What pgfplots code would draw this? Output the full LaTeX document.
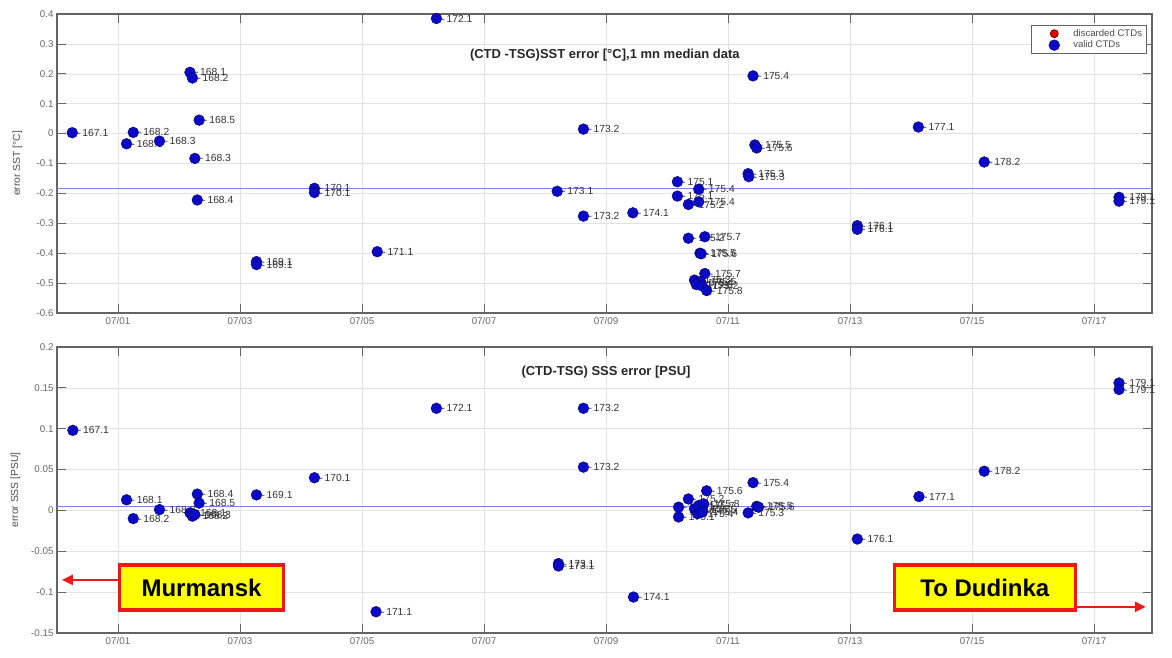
\documentclass[border=0pt]{standalone}
\usepackage{fontspec}
\setmainfont{Liberation Sans}
\usepackage{pgfplots}
\pgfplotsset{compat=1.18}
\usepackage{pgfplotstable}
\usetikzlibrary{arrows.meta}
\definecolor{ptblue}{RGB}{10,10,200}
\definecolor{ptedge}{RGB}{0,0,80}
\definecolor{gridgray}{RGB}{226,226,226}
\definecolor{framegray}{RGB}{100,100,100}
\definecolor{hline}{RGB}{125,125,255}
\definecolor{boxyellow}{RGB}{255,255,0}
\definecolor{boxred}{RGB}{235,25,25}

\pgfplotstableread{
x y lab
0.25 0.003 167.1
1.14 -0.034 168.1
1.25 0.004 168.2
1.68 -0.025 168.3
2.18 0.205 168.1
2.22 0.186 168.2
2.33 0.045 168.5
2.26 -0.083 168.3
2.30 -0.222 168.4
3.27 -0.428 169.1
3.27 -0.438 169.1
4.22 -0.183 170.1
4.22 -0.197 170.1
5.25 -0.395 171.1
6.22 0.385 172.1
8.20 -0.193 173.1
8.63 0.015 173.2
8.63 -0.276 173.2
9.44 -0.265 174.1
10.17 -0.161 175.1
10.17 -0.209 175.1
10.52 -0.186 175.4
10.52 -0.228 175.4
10.35 -0.237 175.2
10.35 -0.350 175.2
10.62 -0.345 175.7
10.54 -0.400 175.5
10.56 -0.402 175.6
10.62 -0.468 175.7
10.45 -0.490 175.3
10.50 -0.500 175.4
10.55 -0.495 175.5
10.48 -0.505 175.6
10.58 -0.510 175.2
10.65 -0.525 175.8
11.33 -0.134 175.3
11.34 -0.144 175.3
11.44 -0.038 175.5
11.47 -0.048 175.6
11.41 0.193 175.4
13.12 -0.308 176.1
13.12 -0.320 176.1
14.12 0.022 177.1
15.20 -0.095 178.2
17.41 -0.213 179.1
17.41 -0.226 179.1
}\sst

\pgfplotstableread{
x y lab
0.26 0.098 167.1
1.14 0.013 168.1
1.25 -0.010 168.2
1.68 0.001 168.3
2.30 0.020 168.4
2.33 0.009 168.5
2.18 -0.003 168.1
2.22 -0.007 168.2
2.26 -0.005 168.3
3.27 0.019 169.1
4.22 0.040 170.1
5.23 -0.124 171.1
6.22 0.125 172.1
8.63 0.125 173.2
8.63 0.053 173.2
8.22 -0.065 173.1
8.22 -0.068 173.1
9.45 -0.106 174.1
10.19 0.004 175.1
10.19 -0.008 175.1
10.35 0.014 175.2
10.65 0.024 175.6
10.45 0.002 175.3
10.50 -0.004 175.4
10.55 0.000 175.5
10.52 0.006 175.7
10.60 0.008 175.8
10.58 -0.002 175.4
11.41 0.034 175.4
11.47 0.005 175.5
11.50 0.004 175.6
11.33 -0.003 175.3
13.12 -0.035 176.1
14.13 0.017 177.1
15.20 0.048 178.2
17.41 0.156 179.1
17.41 0.148 179.1
}\sss

\pgfplotsset{
  ctdaxis/.style={
    scale only axis, width=1095pt,
    xmin=0, xmax=17.95,
    xtick={1,3,5,7,9,11,13,15,17},
    xticklabels={07/01,07/03,07/05,07/07,07/09,07/11,07/13,07/15,07/17},
    grid=major, major grid style={gridgray, line width=0.6pt},
    axis line style={framegray, line width=1.2pt},
    tick style={framegray, line width=0.8pt},
    major tick length=9pt, tick align=inside,
    ticklabel style={font=\fontsize{9.8}{11}\selectfont, text=black!60},
    xticklabel style={yshift=-1pt},
    /pgf/number format/assume math mode=true,
    clip=false,
    ylabel style={font=\fontsize{10.3}{12}\selectfont, text=black!70},
  },
  ctdpts/.style={
    only marks, mark=*, mark size=5.4pt,
    mark options={fill=ptblue, draw=ptedge, line width=0.4pt},
    point meta=explicit symbolic,
    nodes near coords={-\,\pgfplotspointmeta},
    every node near coord/.append style={anchor=west, xshift=4.4pt, inner sep=0.5pt,
      font=\fontsize{10.3}{11}\selectfont, text=black!80},
  }
}

\begin{document}
\begin{tikzpicture}[x=1pt,y=1pt]
\useasboundingbox (0,0) rectangle (1172,657);
% ---------- top: SST ----------
\begin{axis}[ctdaxis, at={(57pt,344pt)}, anchor=south west, height=299pt,
  ymin=-0.6, ymax=0.4,
  ytick={-0.6,-0.5,-0.4,-0.3,-0.2,-0.1,0,0.1,0.2,0.3,0.4},
  yticklabel style={/pgf/number format/.cd, fixed, precision=1},
  ylabel={error SST [°C]},
  ylabel style={at={(axis description cs:-0.036,0.5)}, anchor=center},
  legend image code/.code={%
    \path[draw=none, fill=none] (0pt,-3pt) rectangle (38pt,3pt);
    \draw[#1] plot coordinates {(21pt,0pt)};},
  legend style={at={(0.995,0.963)}, anchor=north east, draw=framegray, line width=0.8pt,
    font=\fontsize{9.6}{10.5}\selectfont, text=black!70, row sep=-1pt,
    inner xsep=2pt, inner ysep=2pt},
  legend cell align=left]
\addplot[hline, line width=1.1pt, forget plot] coordinates {(0,-0.183) (17.95,-0.183)};
\addlegendimage{only marks, mark=*, mark size=4pt, mark options={fill=red!90!black, draw=red!40!black}}
\addlegendentry{discarded CTDs}
\addplot[ctdpts] table[x=x, y=y, meta=lab]{\sst};
\addlegendentry{valid CTDs}
\node[font=\bfseries\fontsize{13}{15}\selectfont, text=black!85] at (axis cs:8.98,0.262)
  {(CTD -TSG)SST error [°C],1 mn median data};
\end{axis}
% ---------- bottom: SSS ----------
\begin{axis}[ctdaxis, at={(57pt,24pt)}, anchor=south west, height=286pt,
  ymin=-0.15, ymax=0.2,
  ytick={-0.15,-0.1,-0.05,0,0.05,0.1,0.15,0.2},
  yticklabel style={/pgf/number format/.cd, fixed, precision=2},
  ylabel={error SSS [PSU]},
  ylabel style={at={(axis description cs:-0.038,0.5)}, anchor=center}]
\addplot[hline, line width=0.7pt] coordinates {(0,0.005) (17.95,0.005)};
\addplot[ctdpts] table[x=x, y=y, meta=lab]{\sss};
\node[font=\bfseries\fontsize{13}{15}\selectfont, text=black!85] at (axis cs:9.0,0.169)
  {(CTD-TSG) SSS error [PSU]};
\node[draw=boxred, line width=3.5pt, fill=boxyellow, minimum width=164pt, minimum height=45pt,
  font=\bfseries\fontsize{24}{26}\selectfont, inner sep=0pt] (mur) at (axis cs:2.37,-0.0945) {Murmansk};
\draw[boxred, line width=2.5pt, -{Triangle[length=11pt,width=10pt]}] (axis cs:1.0,-0.085) -- (axis cs:0.08,-0.085);
\node[draw=boxred, line width=3.5pt, fill=boxyellow, minimum width=181pt, minimum height=45pt,
  font=\bfseries\fontsize{24}{26}\selectfont, inner sep=0pt] (dud) at (axis cs:15.21,-0.0945) {To Dudinka};
\draw[boxred, line width=2.5pt, -{Triangle[length=11pt,width=10pt]}] (axis cs:16.72,-0.118) -- (axis cs:17.85,-0.118);
\end{axis}
\end{tikzpicture}
\end{document}
